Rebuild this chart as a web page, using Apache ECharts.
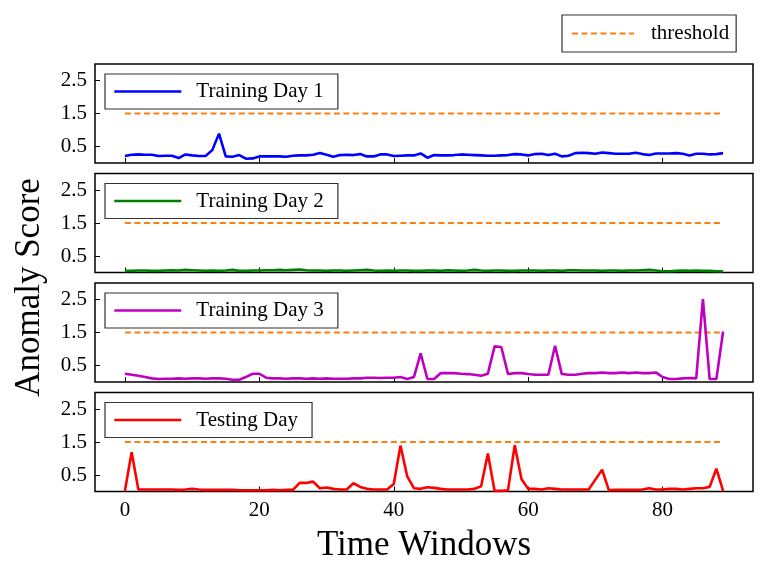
<!DOCTYPE html>
<html>
<head>
<meta charset="utf-8">
<script src="https://cdn.jsdelivr.net/npm/echarts@6/dist/echarts.min.js"></script>
<style>
  html, body { margin: 0; padding: 0; background: #fff; }
  #chart { width: 768px; height: 575px; }
</style>
</head>
<body>
<div id="chart"></div>
<script>
// anomaly scores per time window (0..89)
var trainingDay1 = [
  0.21, 0.25, 0.26, 0.25, 0.25, 0.21, 0.22, 0.22, 0.15, 0.26,
  0.23, 0.21, 0.21, 0.39, 0.89, 0.20, 0.19, 0.24, 0.13, 0.14,
  0.20, 0.20, 0.20, 0.20, 0.19, 0.22, 0.23, 0.23, 0.25, 0.30,
  0.25, 0.19, 0.24, 0.25, 0.24, 0.27, 0.20, 0.20, 0.26, 0.26,
  0.21, 0.22, 0.23, 0.23, 0.29, 0.16, 0.24, 0.23, 0.23, 0.24,
  0.26, 0.25, 0.24, 0.23, 0.22, 0.22, 0.23, 0.24, 0.27, 0.26,
  0.23, 0.27, 0.28, 0.24, 0.28, 0.20, 0.22, 0.30, 0.31, 0.30,
  0.28, 0.32, 0.30, 0.28, 0.28, 0.28, 0.31, 0.27, 0.24, 0.29,
  0.29, 0.29, 0.30, 0.28, 0.23, 0.28, 0.28, 0.26, 0.27, 0.30
];
var trainingDay2 = [
  0.05, 0.05, 0.06, 0.06, 0.05, 0.05, 0.06, 0.07, 0.06, 0.08,
  0.07, 0.06, 0.05, 0.06, 0.05, 0.06, 0.08, 0.05, 0.05, 0.06,
  0.06, 0.07, 0.07, 0.08, 0.07, 0.08, 0.09, 0.07, 0.06, 0.06,
  0.05, 0.06, 0.06, 0.05, 0.06, 0.07, 0.08, 0.06, 0.05, 0.06,
  0.05, 0.06, 0.06, 0.05, 0.05, 0.06, 0.06, 0.05, 0.07, 0.06,
  0.05, 0.06, 0.08, 0.06, 0.05, 0.06, 0.06, 0.05, 0.05, 0.06,
  0.06, 0.06, 0.05, 0.06, 0.06, 0.05, 0.07, 0.07, 0.06, 0.06,
  0.06, 0.05, 0.06, 0.06, 0.05, 0.06, 0.06, 0.07, 0.08, 0.06,
  0.04, 0.04, 0.05, 0.06, 0.05, 0.06, 0.05, 0.05, 0.04, 0.04
];
var trainingDay3 = [
  0.25, 0.22, 0.19, 0.15, 0.11, 0.09, 0.10, 0.10, 0.11, 0.10,
  0.11, 0.11, 0.10, 0.11, 0.11, 0.10, 0.07, 0.07, 0.15, 0.25,
  0.25, 0.13, 0.11, 0.11, 0.10, 0.11, 0.11, 0.10, 0.11, 0.10,
  0.11, 0.10, 0.10, 0.10, 0.11, 0.11, 0.13, 0.13, 0.12, 0.13,
  0.13, 0.15, 0.09, 0.15, 0.87, 0.09, 0.09, 0.27, 0.27, 0.27,
  0.25, 0.24, 0.22, 0.19, 0.25, 1.08, 1.06, 0.24, 0.27, 0.27,
  0.24, 0.22, 0.22, 0.22, 1.10, 0.24, 0.22, 0.22, 0.25, 0.27,
  0.27, 0.29, 0.27, 0.27, 0.29, 0.27, 0.29, 0.27, 0.27, 0.29,
  0.15, 0.09, 0.09, 0.11, 0.12, 0.11, 2.51, 0.09, 0.09, 1.53
];
var testingDay = [
  0.02, 1.19, 0.06, 0.06, 0.06, 0.06, 0.06, 0.06, 0.05, 0.06,
  0.08, 0.06, 0.05, 0.05, 0.05, 0.05, 0.05, 0.04, 0.04, 0.04,
  0.04, 0.04, 0.05, 0.04, 0.05, 0.05, 0.26, 0.26, 0.30, 0.10,
  0.12, 0.08, 0.06, 0.06, 0.25, 0.14, 0.08, 0.06, 0.06, 0.06,
  0.23, 1.39, 0.46, 0.10, 0.08, 0.13, 0.11, 0.08, 0.06, 0.06,
  0.06, 0.06, 0.08, 0.16, 1.15, 0.02, 0.02, 0.04, 1.40, 0.38,
  0.08, 0.08, 0.06, 0.10, 0.08, 0.06, 0.06, 0.06, 0.06, 0.06,
  0.36, 0.66, 0.04, 0.05, 0.05, 0.05, 0.05, 0.06, 0.10, 0.06,
  0.06, 0.08, 0.08, 0.06, 0.08, 0.10, 0.10, 0.14, 0.69, 0.02
];
var threshold = 1.5;

var seriesNames = ['Training Day 1', 'Training Day 2', 'Training Day 3', 'Testing Day'];
var seriesColors = ['#0000ff', '#008000', '#bf00bf', '#ff0000'];
var seriesValues = [trainingDay1, trainingDay2, trainingDay3, testingDay];

var xTicks = [0, 20, 40, 60, 80];
var yTicks = [0.5, 1.5, 2.5];

var FONT = 'Liberation Serif';
var gridTops = [64, 173.5, 283, 392.5];

function toPoints(values) {
  return values.map(function (v, i) { return [i, v]; });
}

var grids = [], xAxes = [], yAxes = [], series = [], legends = [];

gridTops.forEach(function (top, k) {
  var last = k === gridTops.length - 1;
  grids.push({
    left: 95, width: 658, top: top, height: 99,
    show: true, borderColor: '#000', borderWidth: 1.5, backgroundColor: '#fff'
  });
  xAxes.push({
    type: 'value', gridIndex: k, min: -4.45, max: 93.45,
    axisLine: { show: false, onZero: false },
    splitLine: { show: false },
    axisTick: { show: true, inside: true, length: 5, customValues: xTicks, lineStyle: { color: '#000', width: 1 } },
    axisLabel: {
      show: last, customValues: xTicks, margin: 8,
      color: '#000', fontFamily: FONT, fontSize: 21
    },
    name: last ? 'Time Windows' : '',
    nameLocation: 'middle', nameGap: 37,
    nameTextStyle: { color: '#000', fontFamily: FONT, fontSize: 35 }
  });
  yAxes.push({
    type: 'value', gridIndex: k, min: 0, max: 3,
    axisLine: { show: false, onZero: false },
    splitLine: { show: false },
    axisTick: { show: true, inside: true, length: 5, customValues: yTicks, lineStyle: { color: '#000', width: 1 } },
    axisLabel: {
      customValues: yTicks, margin: 8,
      color: '#000', fontFamily: FONT, fontSize: 21,
      formatter: function (v) { return v.toFixed(1); }
    }
  });
  series.push({
    name: seriesNames[k], type: 'line', xAxisIndex: k, yAxisIndex: k,
    data: toPoints(seriesValues[k]),
    symbol: 'none', z: 3,
    lineStyle: { color: seriesColors[k], width: 2.6 },
    itemStyle: { color: seriesColors[k] }
  });
  // threshold drawn across the same time windows
  series.push({
    name: 'threshold', type: 'line', xAxisIndex: k, yAxisIndex: k,
    data: seriesValues[k].map(function (v, i) { return [i, threshold]; }),
    symbol: 'none', z: 2,
    lineStyle: { color: '#ff7f0e', width: 2, type: [6, 3.5] },
    itemStyle: { color: '#ff7f0e' }
  });
  legends.push({
    data: [seriesNames[k]],
    left: 105, top: top + 10,
    orient: 'vertical',
    itemWidth: 67, itemHeight: 14,
    padding: [7, 14, 7, 8],
    backgroundColor: '#fff',
    borderColor: '#333', borderWidth: 1.2, borderRadius: 0,
    selectedMode: false,
    itemStyle: { opacity: 0 },
    lineStyle: { width: 2.6 },
    textStyle: { color: '#000', fontFamily: FONT, fontSize: 21, padding: [0, 0, 0, 10] }
  });
});

legends.push({
  data: ['threshold'],
  left: 562, top: 15,
  itemWidth: 62, itemHeight: 14,
  padding: [8, 7, 8, 9],
  backgroundColor: '#fff',
  borderColor: '#333', borderWidth: 1.2, borderRadius: 0,
  selectedMode: false,
  itemStyle: { opacity: 0 },
  lineStyle: { width: 2 },
  textStyle: { color: '#000', fontFamily: FONT, fontSize: 21, padding: [0, 0, 0, 12] }
});

var chart = echarts.init(document.getElementById('chart'), null, { renderer: 'canvas' });
chart.setOption({
  animation: false,
  backgroundColor: '#fff',
  grid: grids,
  xAxis: xAxes,
  yAxis: yAxes,
  legend: legends,
  series: series,
  graphic: [{
    type: 'text', left: 12, top: 'middle',
    rotation: Math.PI / 2,
    style: { text: 'Anomaly Score', fill: '#000', font: '35px "Liberation Serif"' }
  }]
});
</script>
</body>
</html>
